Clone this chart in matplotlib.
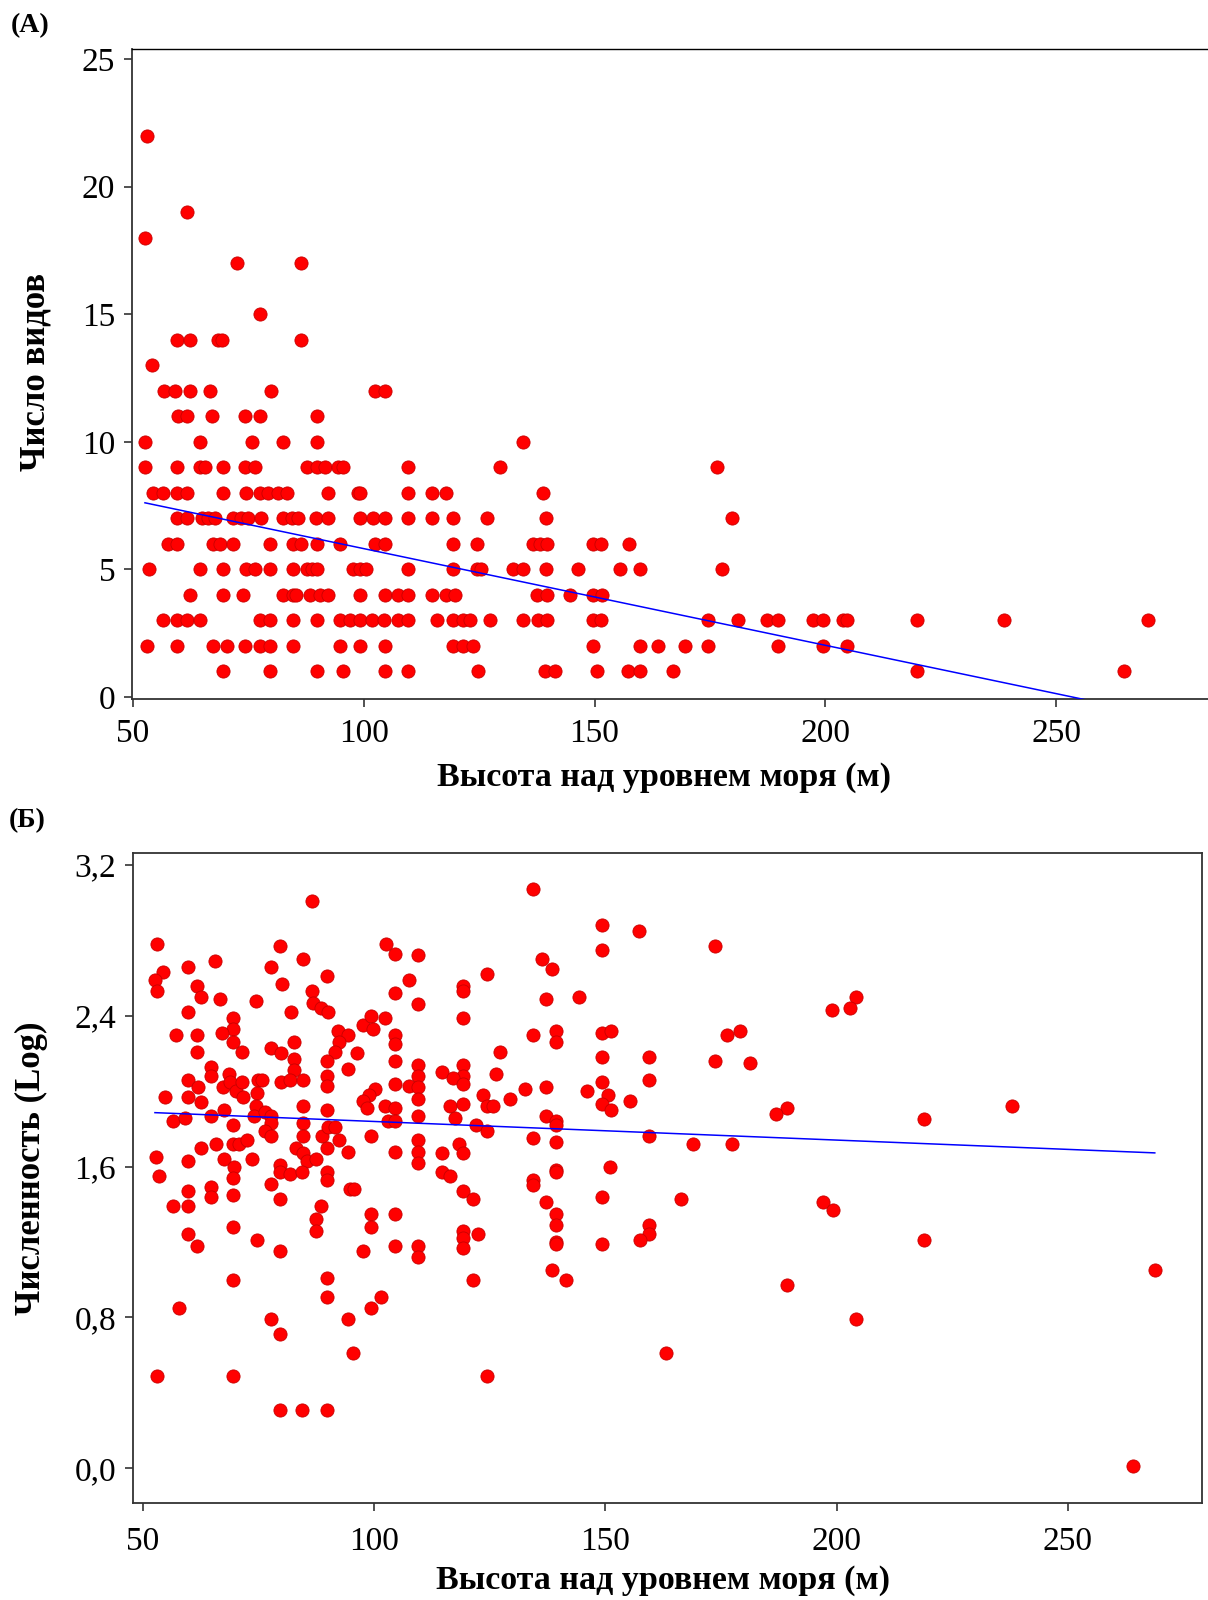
import numpy as np
import matplotlib
matplotlib.use('Agg')
import matplotlib.pyplot as plt
from matplotlib.ticker import FuncFormatter

# (A) number of species: integer levels and the altitudes of the sites at each level
species_levels = [22, 19, 18, 17, 15, 14, 13, 12, 11, 10, 9, 8, 7, 6, 5, 4, 3, 2, 1]
altitudes_by_level = [
    [53.0],
    [61.6],
    [52.6],
    [72.5, 86.5],
    [77.5],
    [59.6, 62.4, 68.5, 69.2, 86.5],
    [54.2],
    [56.8, 59.0, 62.4, 66.7, 79.9, 102.4, 104.6],
    [59.8, 61.6, 67.1, 74.3, 77.5, 89.8],
    [52.6, 64.5, 75.7, 82.6, 89.8, 134.4],
    [52.6, 59.6, 64.5, 65.6, 69.4, 74.3, 76.4, 87.6, 89.8, 91.6, 94.5, 95.6, 109.5, 129.5, 176.5],
    [54.4, 56.6, 59.6, 61.6, 69.4, 74.5, 77.5, 79.3, 81.5, 83.3, 92.3, 98.8, 99.2, 109.5, 114.7,
     117.8, 138.8],
    [59.6, 61.6, 64.9, 66.3, 67.8, 71.7, 73.3, 75.0, 77.7, 82.6, 84.4, 85.8, 89.7, 92.3, 99.2,
     102.1, 104.6, 109.5, 114.7, 119.4, 126.6, 139.5, 179.7],
    [57.6, 59.6, 67.4, 68.9, 71.7, 79.7, 84.7, 86.5, 89.8, 94.9, 102.4, 104.6, 119.4, 124.6, 136.7,
     138.2, 139.6, 149.7, 151.5, 157.5],
    [53.5, 64.5, 69.4, 74.5, 76.4, 79.7, 84.6, 87.6, 88.7, 89.8, 97.7, 99.2, 100.5, 109.5, 119.4,
     124.6, 125.5, 132.4, 134.6, 139.5, 146.5, 155.5, 159.9, 177.7],
    [62.4, 69.4, 73.9, 82.6, 84.7, 85.4, 88.4, 90.5, 92.3, 99.2, 104.6, 107.5, 109.5, 114.7, 117.8,
     119.8, 137.5, 139.6, 144.7, 149.6, 151.7],
    [56.6, 59.6, 61.6, 64.5, 77.5, 79.7, 84.6, 89.8, 94.9, 97.0, 99.2, 101.7, 104.3, 107.5, 109.5,
     115.8, 119.4, 121.5, 123.0, 127.4, 134.6, 137.8, 139.6, 149.6, 151.5, 174.6, 181.1, 187.3,
     189.8, 197.4, 199.6, 203.9, 204.6, 219.8, 238.6, 269.8],
    [53.1, 59.6, 67.4, 70.3, 74.3, 77.5, 79.7, 84.6, 94.9, 99.2, 104.6, 119.4, 121.5, 123.7, 149.6,
     159.9, 163.8, 169.6, 174.6, 189.8, 199.6, 204.6],
    [69.4, 79.7, 89.8, 95.4, 104.6, 109.5, 124.8, 139.3, 141.4, 150.5, 157.3, 159.9, 167.0, 219.8,
     264.7],
]
fit_a = (9.60, -0.0379)   # intercept, slope of the drawn trend line

# (Б) abundance (log) against altitude
altitude_b = [
    86.5, 53.1, 79.6, 84.7, 102.5, 104.5, 109.5, 59.8, 65.6, 77.8,
    54.3, 52.6, 53.1, 61.6, 62.5, 66.6, 74.4, 80.0, 89.7, 86.5,
    86.7, 88.6, 90.1, 104.5, 107.6, 109.5, 59.8, 82.0, 69.5, 69.5,
    67.2, 57.1, 61.6, 61.6, 69.5, 71.5, 77.8, 79.8, 82.6, 92.2,
    94.4, 92.5, 91.5, 96.3, 97.5, 99.4, 99.7, 102.3, 104.5, 104.5,
    104.5, 109.5, 109.5, 82.6, 82.6, 89.7, 94.4, 64.8, 64.8, 59.8,
    62.0, 59.8, 62.5, 68.7, 67.4, 68.8, 70.1, 71.5, 71.7, 74.9,
    75.7, 74.6, 79.8, 81.8, 84.7, 89.7, 89.7, 104.5, 107.6, 109.5,
    109.5, 100.2, 98.9, 97.5, 98.5, 54.8, 64.8, 67.6, 56.6, 59.1,
    74.4, 74.0, 76.4, 77.8, 77.8, 84.7, 89.7, 102.3, 104.5, 103.0,
    104.5, 109.5, 69.5, 84.7, 84.7, 76.4, 77.8, 88.8, 90.1, 91.5,
    92.5, 89.7, 94.4, 99.4, 104.5, 109.5, 109.5, 109.5, 62.5, 65.8,
    69.5, 70.8, 72.6, 52.8, 59.8, 67.5, 69.7, 73.5, 79.6, 83.2,
    84.7, 85.4, 87.4, 53.5, 69.5, 79.6, 81.8, 89.7, 84.5,
    89.7, 77.8, 59.8, 64.8, 64.8, 69.5, 79.6, 88.6, 87.4, 87.4,
    94.8, 95.6, 99.4, 99.4, 104.5, 56.6, 59.8, 59.8, 61.7, 69.5,
    74.6, 79.6, 97.5, 104.5, 109.5, 109.5, 69.5, 89.7, 89.7, 101.4,
    99.4, 57.9, 77.8, 79.6, 94.4, 95.5, 53.1, 69.5, 79.6, 84.5,
    89.7,
    134.4, 149.2, 157.3, 149.2, 173.7, 136.4, 138.5, 124.3, 119.3, 119.3,
    137.1, 144.2, 119.3, 134.4, 139.4, 139.4, 149.2, 151.2, 127.3, 149.2,
    159.4, 173.7, 114.6, 119.3, 119.3, 117.1, 119.3, 126.3, 159.4, 149.2,
    137.1, 132.6, 129.4, 123.6, 116.5, 119.3, 124.3, 125.6, 117.5, 146.1,
    150.5, 149.2, 151.3, 155.4, 137.1, 139.4, 139.4, 122.0, 124.5, 134.4,
    139.4, 159.4, 169.0, 114.6, 118.4, 119.3, 151.1, 139.4, 139.4, 114.6,
    116.5, 134.4,
    134.4, 119.3, 121.3, 137.1, 149.2, 166.3, 119.3, 119.3, 119.3, 122.5,
    139.4, 139.4, 139.4, 139.4, 149.2, 159.4, 159.4, 157.5, 121.3, 138.4,
    141.5, 163.2, 124.3,
    204.2, 199.1, 203.0, 176.2, 179.2, 181.2, 189.3, 187.0, 218.9, 238.0,
    177.3, 197.1, 199.3, 218.9, 268.8, 189.3, 204.2, 264.1,
]
abundance_b = [
    3.01, 2.78, 2.77, 2.70, 2.78, 2.73, 2.72, 2.66, 2.69, 2.66,
    2.63, 2.59, 2.53, 2.56, 2.50, 2.49, 2.48, 2.57, 2.61, 2.53,
    2.47, 2.44, 2.42, 2.52, 2.59, 2.46, 2.42, 2.42, 2.39, 2.33,
    2.31, 2.30, 2.30, 2.21, 2.26, 2.21, 2.23, 2.20, 2.26, 2.32,
    2.30, 2.26, 2.21, 2.20, 2.35, 2.40, 2.33, 2.39, 2.30, 2.25,
    2.16, 2.14, 2.08, 2.17, 2.11, 2.16, 2.12, 2.13, 2.08, 2.06,
    2.02, 1.97, 1.94, 2.09, 2.02, 2.05, 2.00, 2.05, 1.97, 2.06,
    2.06, 1.99, 2.05, 2.06, 2.06, 2.08, 2.03, 2.04, 2.03, 2.02,
    1.96, 2.01, 1.98, 1.95, 1.91, 1.97, 1.87, 1.90, 1.84, 1.86,
    1.92, 1.87, 1.89, 1.87, 1.83, 1.92, 1.90, 1.92, 1.91, 1.84,
    1.84, 1.87, 1.82, 1.83, 1.76, 1.79, 1.76, 1.76, 1.81, 1.81,
    1.74, 1.70, 1.68, 1.76, 1.68, 1.74, 1.68, 1.62, 1.70, 1.72,
    1.72, 1.72, 1.74, 1.65, 1.63, 1.64, 1.60, 1.64, 1.61, 1.70,
    1.67, 1.63, 1.64, 1.55, 1.54, 1.57, 1.56, 1.57, 1.57,
    1.53, 1.51, 1.47, 1.49, 1.44, 1.45, 1.43, 1.39, 1.32, 1.26,
    1.48, 1.48, 1.35, 1.28, 1.35, 1.39, 1.39, 1.24, 1.18, 1.28,
    1.21, 1.15, 1.15, 1.18, 1.18, 1.12, 1.00, 1.01, 0.91, 0.91,
    0.85, 0.85, 0.79, 0.71, 0.79, 0.61, 0.49, 0.49, 0.31, 0.31,
    0.31,
    3.07, 2.88, 2.85, 2.75, 2.77, 2.70, 2.65, 2.62, 2.56, 2.53,
    2.49, 2.50, 2.39, 2.30, 2.32, 2.26, 2.31, 2.32, 2.21, 2.18,
    2.18, 2.16, 2.10, 2.14, 2.08, 2.07, 2.04, 2.09, 2.06, 2.05,
    2.02, 2.01, 1.96, 1.98, 1.92, 1.93, 1.92, 1.92, 1.86, 2.00,
    1.98, 1.93, 1.90, 1.95, 1.87, 1.84, 1.82, 1.82, 1.79, 1.75,
    1.73, 1.76, 1.72, 1.67, 1.72, 1.67, 1.60, 1.58, 1.57, 1.57,
    1.55, 1.53,
    1.50, 1.47, 1.43, 1.41, 1.44, 1.43, 1.26, 1.22, 1.17, 1.24,
    1.35, 1.29, 1.20, 1.19, 1.19, 1.29, 1.24, 1.21, 1.00, 1.05,
    1.00, 0.61, 0.49,
    2.50, 2.43, 2.44, 2.30, 2.32, 2.15, 1.91, 1.88, 1.85, 1.92,
    1.72, 1.41, 1.37, 1.21, 1.05, 0.97, 0.79, 0.01,
]
fit_b = (1.938, -0.000987)

x_label = 'Высота над уровнем моря (м)'
y_label_a = 'Число видов'
y_label_b = 'Численность (Log)'

plt.rcParams['font.family'] = ['Liberation Serif', 'DejaVu Serif']

alt_a = np.concatenate([np.array(v) for v in altitudes_by_level])
spp_a = np.concatenate([np.full(len(v), s) for s, v in zip(species_levels, altitudes_by_level)])
alt_b = np.array(altitude_b)
abu_b = np.array(abundance_b)

fig = plt.figure(figsize=(12.08, 16), dpi=100)
ax_a = fig.add_axes([0.1093, 0.5629, 0.8907, 0.4065])
ax_b = fig.add_axes([0.1099, 0.0604, 0.8851, 0.4067])

dot = dict(s=90, c='#ff0000', edgecolors='#c80000', linewidths=0.6, zorder=3)


def trend(ax, x, fit):
    xs = np.array([x.min(), x.max()])
    ax.plot(xs, fit[0] + fit[1] * xs, color='#0000ff', lw=1.1, zorder=4)


def style(ax):
    for sp in ax.spines.values():
        sp.set_linewidth(1.3)
        sp.set_color('#333333')
    ax.tick_params(direction='out', length=6, width=1.2, labelsize=24, color='#333333')
    ax.tick_params(axis='x', pad=8)
    ax.tick_params(axis='y', pad=6)


# panel A
ax_a.scatter(alt_a, spp_a, **dot)
trend(ax_a, alt_a, fit_a)
ax_a.set_xlim(49.8, 282.9)
ax_a.set_ylim(-0.1, 25.4)
ax_a.set_xticks([50, 100, 150, 200, 250])
ax_a.set_yticks([0, 5, 10, 15, 20, 25])
ax_a.spines['right'].set_visible(False)
style(ax_a)
ax_a.spines['top'].set_color('black')
ax_a.spines['top'].set_linewidth(1.0)
ax_a.set_xlabel(x_label, fontsize=24.5, fontweight='bold', va='center')
ax_a.xaxis.set_label_coords(0.494, -0.120)
ax_a.set_ylabel(y_label_a, fontsize=25, fontweight='bold', va='center')
ax_a.yaxis.set_label_coords(-0.089, 0.503)

# panel B
ax_b.scatter(alt_b, abu_b, **dot)
trend(ax_b, alt_b, fit_b)
ax_b.set_xlim(47.8, 279.0)
ax_b.set_ylim(-0.186, 3.265)
ax_b.set_xticks([50, 100, 150, 200, 250])
ax_b.set_yticks([0.0, 0.8, 1.6, 2.4, 3.2])
ax_b.yaxis.set_major_formatter(FuncFormatter(lambda v, p: f'{v:.1f}'.replace('.', ',')))
style(ax_b)
ax_b.tick_params(axis='x', pad=11)
ax_b.set_xlabel(x_label, fontsize=24.5, fontweight='bold', va='center')
ax_b.xaxis.set_label_coords(0.496, -0.118)
ax_b.set_ylabel(y_label_b, fontsize=25, fontweight='bold', va='center')
ax_b.yaxis.set_label_coords(-0.095, 0.515)

fig.text(0.0085, 0.9838, '(A)', fontsize=20, fontweight='bold', va='center', ha='left')
fig.text(0.0075, 0.4869, '(Б)', fontsize=20, fontweight='bold', va='center', ha='left')

fig.savefig('out.png', dpi=100)
